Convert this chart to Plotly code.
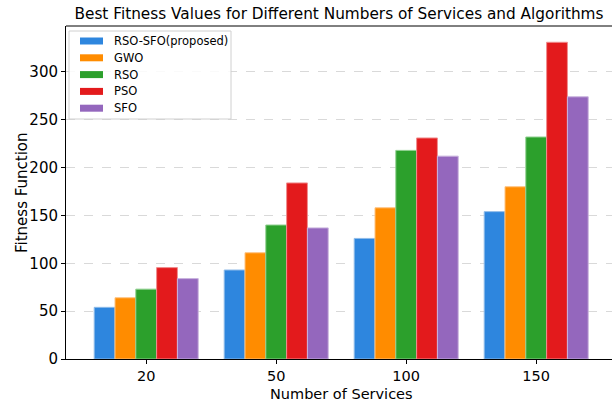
import plotly.graph_objects as go

# Number of services (x categories)
services = ["20", "50", "100", "150"]

# Best fitness value per algorithm
algorithms = ["RSO-SFO(proposed)", "GWO", "RSO", "PSO", "SFO"]
rso_sfo = [54, 93, 126, 154]
gwo = [64, 111, 158, 180]
rso = [73, 140, 218, 232]
pso = [95.5, 184, 231, 331]
sfo = [84, 137, 212, 274]

series = [rso_sfo, gwo, rso, pso, sfo]
colors = ["#2E86DE", "#FF8C00", "#2CA02C", "#E31A1C", "#9467BD"]
edges = ["#8fbbe9", "#ffc27f", "#8fcf8f", "#f08d8e", "#c9b3de"]

FONT = "DejaVu Sans"
W, H = 612, 403
L, R, T, B = 66, 0, 26, 44
PW, PH = W - L - R, H - T - B


def px(x):
    return (x - L) / PW


def py(y):
    return (H - B - y) / PH


fig = go.Figure()
for name, vals, c, e in zip(algorithms, series, colors, edges):
    fig.add_trace(go.Bar(
        x=list(range(len(services))), y=vals, name=name,
        marker=dict(color=c, line=dict(color=e, width=1)),
        showlegend=False,
    ))

fig.update_layout(
    width=W, height=H,
    margin=dict(l=L, r=R, t=T, b=B),
    paper_bgcolor="white", plot_bgcolor="white",
    barmode="group", bargap=0.2, bargroupgap=0,
    font=dict(family=FONT, color="black", size=15),
    title=dict(
        text="Best Fitness Values for Different Numbers of Services and Algorithms",
        x=0.5, xanchor="center", xref="paper",
        y=1 - 14 / H, yanchor="middle", yref="container",
        font=dict(size=15.3, family=FONT, color="black"),
    ),
)

fig.update_xaxes(
    range=[-0.617, 3.583],
    tickmode="array", tickvals=list(range(len(services))), ticktext=services,
    ticks="outside", ticklen=3.5, tickcolor="black", tickwidth=1,
    tickfont=dict(size=14.5),
    showline=True, linecolor="black", linewidth=1, mirror=False,
    showgrid=False, zeroline=False,
)
# top spine drawn separately so the right spine stays hidden
fig.add_shape(type="line", xref="paper", yref="paper", x0=0, x1=1, y0=1, y1=1,
              line=dict(color="black", width=1))

fig.update_yaxes(
    range=[0, 348],
    tickmode="array", tickvals=[0, 50, 100, 150, 200, 250, 300],
    ticks="outside", ticklen=4, tickcolor="black", tickwidth=1,
    tickfont=dict(size=15),
    showline=True, linecolor="black", linewidth=1,
    showgrid=True, gridcolor="#d9d9d9", griddash="dash", gridwidth=1,
    zeroline=False,
)

# axis titles
fig.add_annotation(xref="paper", yref="paper", x=px(341), y=py(394),
                   xanchor="center", yanchor="middle", showarrow=False,
                   text="Number of Services", font=dict(size=14.5, family=FONT, color="black"))
fig.add_annotation(xref="paper", yref="paper", x=px(22), y=py(193),
                   xanchor="center", yanchor="middle", showarrow=False, textangle=-90,
                   text="Fitness Function", font=dict(size=15, family=FONT, color="black"))

# legend box with wide colour patches
fig.add_shape(type="rect", xref="paper", yref="paper",
              x0=px(69), x1=px(231), y0=py(31), y1=py(119),
              line=dict(color="#d0d0d0", width=1), fillcolor="rgba(255,255,255,0.85)",
              layer="above")
for i, (name, c) in enumerate(zip(algorithms, colors)):
    yc = 41 + i * 16.8
    fig.add_shape(type="rect", xref="paper", yref="paper",
                  x0=px(80), x1=px(103), y0=py(yc + 3.5), y1=py(yc - 3.5),
                  line=dict(width=0), fillcolor=c, layer="above")
    fig.add_annotation(xref="paper", yref="paper", x=px(112), y=py(yc),
                       xanchor="left", yanchor="middle", showarrow=False,
                       text=name, font=dict(size=11.5, family=FONT, color="black"))

fig.write_html("out.html")
